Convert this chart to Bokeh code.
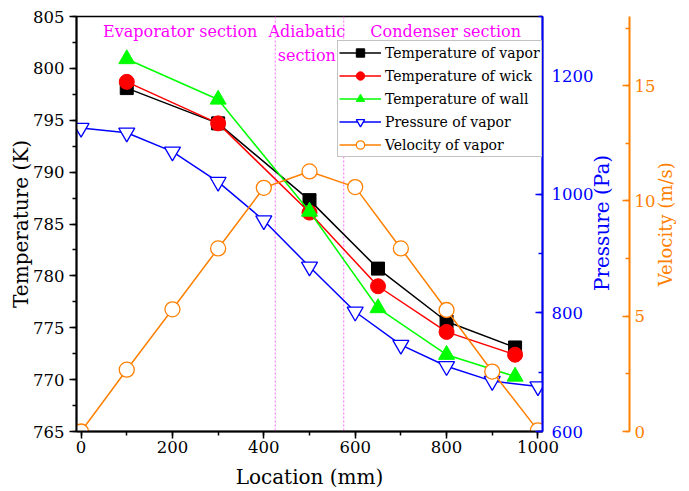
import math
from bokeh.plotting import figure
from bokeh.models import (Range1d, LinearAxis, SingleIntervalTicker, FixedTicker,
                          Span, Label, Legend, LegendItem)
from bokeh.embed import file_html
from bokeh.resources import INLINE

# ---------------- data ----------------
location_T = [100, 300, 500, 650, 800, 950]
temp_vapor = [798.1, 794.7, 787.3, 780.7, 775.6, 773.1]
temp_wick = [798.7, 794.7, 786.1, 779.0, 774.6, 772.4]
temp_wall = [800.9, 797.0, 786.2, 776.9, 772.4, 770.3]

location_P = [0, 100, 200, 300, 400, 500, 600, 700, 800, 900, 1000]
pressure_vapor = [1112, 1104, 1072, 1021, 956, 878, 802, 746, 710, 685, 676]
velocity_vapor = [0.0, 2.68, 5.3, 7.94, 10.57, 11.28, 10.6, 7.94, 5.27, 2.6, 0.05]

section_bounds = [425, 575]
section_texts = ["Evaporator section", "Adiabatic", "section", "Condenser section"]
section_text_x = [217, 494, 494, 798]
section_text_y = [803.6, 803.6, 801.2, 803.6]

legend_labels = ["Temperature of vapor", "Temperature of wick", "Temperature of wall",
                 "Pressure of vapor", "Velocity of vapor"]
x_title = "Location (mm)"
t_title = "Temperature (K)"
p_title = "Pressure (Pa)"
v_title = "Velocity (m/s)"

FONT = "DejaVu Serif"
TICK_FS = "16.5px"
TITLE_FS = "20px"
BLUE = "#0000FF"
ORANGE = "#FF8000"
MAGENTA = "#FF00FF"

p = figure(width=689, height=491, output_backend="svg", toolbar_location=None,
           x_range=Range1d(-10, 1010), y_range=Range1d(765, 805),
           min_border_left=76, min_border_right=147, min_border_top=16,
           min_border_bottom=59)
p.extra_y_ranges = {"pres": Range1d(600, 1300), "vel": Range1d(0, 18)}
p.xgrid.visible = False
p.ygrid.visible = False
p.outline_line_color = "black"
p.outline_line_width = 1.5
p.background_fill_color = "white"
p.border_fill_color = "white"

xa = p.xaxis[0]
xa.ticker = SingleIntervalTicker(interval=200, num_minor_ticks=2)
xa.axis_label = x_title
ya = p.yaxis[0]
ya.ticker = SingleIntervalTicker(interval=5, num_minor_ticks=2)
ya.axis_label = t_title

for ax in (xa, ya):
    ax.axis_line_color = "black"
    ax.axis_line_width = 2
    ax.major_tick_line_color = "black"
    ax.minor_tick_line_color = "black"
    ax.major_tick_line_width = 1.5
    ax.minor_tick_line_width = 1.5
    ax.major_tick_out = 7
    ax.major_tick_in = 0
    ax.minor_tick_out = 4
    ax.minor_tick_in = 0
    ax.major_label_text_font = FONT
    ax.major_label_text_font_size = TICK_FS
    ax.major_label_text_color = "black"
    ax.axis_label_text_font = FONT
    ax.axis_label_text_font_size = TITLE_FS
    ax.axis_label_text_font_style = "normal"
    ax.axis_label_text_color = "black"
xa.major_label_standoff = 2
xa.axis_label_standoff = 9
ya.major_label_standoff = 5
ya.axis_label_standoff = -3


def value_axis(rng, col, interval, standoff):
    ax = LinearAxis(y_range_name=rng,
                    ticker=SingleIntervalTicker(interval=interval, num_minor_ticks=2))
    ax.axis_line_color = col
    ax.axis_line_width = 2
    ax.major_tick_line_color = col
    ax.minor_tick_line_color = col
    ax.major_tick_line_width = 1.5
    ax.minor_tick_line_width = 1.5
    ax.major_tick_out = 0
    ax.major_tick_in = 7
    ax.minor_tick_out = 0
    ax.minor_tick_in = 4
    ax.major_label_text_font = FONT
    ax.major_label_text_font_size = TICK_FS
    ax.major_label_text_color = col
    ax.major_label_standoff = standoff
    return ax


def title_axis(rng, col, text, start_value, standoff, font_size):
    # an axis without line/ticks whose single tick label is the rotated title
    ax = LinearAxis(y_range_name=rng, ticker=FixedTicker(ticks=[start_value]),
                    major_label_overrides={start_value: text})
    ax.axis_line_color = None
    ax.major_tick_line_color = None
    ax.minor_tick_line_color = None
    ax.major_tick_out = 0
    ax.major_tick_in = 0
    ax.minor_tick_out = 0
    ax.minor_tick_in = 0
    ax.major_label_orientation = math.pi / 2
    ax.major_label_text_font = FONT
    ax.major_label_text_font_size = font_size
    ax.major_label_text_color = col
    ax.major_label_standoff = standoff
    return ax


p.add_layout(value_axis("pres", BLUE, 200, 9), "right")
p.add_layout(title_axis("pres", BLUE, p_title, 837, 6, TITLE_FS), "right")
p.add_layout(value_axis("vel", ORANGE, 5, 5), "right")
p.add_layout(title_axis("vel", ORANGE, v_title, 6.3, 7, "18px"), "right")

for b in section_bounds:
    p.add_layout(Span(location=b, dimension="height", line_color="#FF66FF",
                      line_dash="2 2", line_width=1, level="underlay"))
for t, x, y in zip(section_texts, section_text_x, section_text_y):
    p.add_layout(Label(x=x, y=y, text=t, text_align="center", text_baseline="middle",
                       text_font=FONT, text_font_size="16px", text_color=MAGENTA))

LW = 1.5
l1 = p.line(location_T, temp_vapor, line_color="black", line_width=LW)
s1 = p.scatter(location_T, temp_vapor, marker="square", size=13,
               fill_color="black", line_color="black")
l2 = p.line(location_T, temp_wick, line_color="#FF0000", line_width=LW)
s2 = p.scatter(location_T, temp_wick, marker="circle", size=15,
               fill_color="#FF0000", line_color="#FF0000")
l3 = p.line(location_T, temp_wall, line_color="#00FF00", line_width=LW)
s3 = p.scatter(location_T, temp_wall, marker="triangle", size=16,
               fill_color="#00FF00", line_color="#00FF00")
l4 = p.line(location_P, pressure_vapor, line_color=BLUE, line_width=LW, y_range_name="pres")
s4 = p.scatter(location_P, pressure_vapor, marker="inverted_triangle", size=16,
               fill_color="white", line_color=BLUE, line_width=1.3, y_range_name="pres")
l5 = p.line(location_P, velocity_vapor, line_color=ORANGE, line_width=LW, y_range_name="vel")
s5 = p.scatter(location_P, velocity_vapor, marker="circle", size=15,
               fill_color="white", line_color=ORANGE, line_width=1.3, y_range_name="vel")

items = [LegendItem(label=lab, renderers=[l, s]) for lab, l, s in
         zip(legend_labels, [l1, l2, l3, l4, l5], [s1, s2, s3, s4, s5])]
legend = Legend(items=items, location=(261, 274), margin=0, padding=1, spacing=2,
                glyph_width=42, glyph_height=21, label_height=21, label_standoff=4,
                label_text_font=FONT, label_text_font_size="14px",
                label_text_color="black", border_line_color="#888888",
                border_line_width=1.5, background_fill_color="white",
                background_fill_alpha=1.0)
p.add_layout(legend)

open("out.html", "w").write(file_html(p, INLINE))
